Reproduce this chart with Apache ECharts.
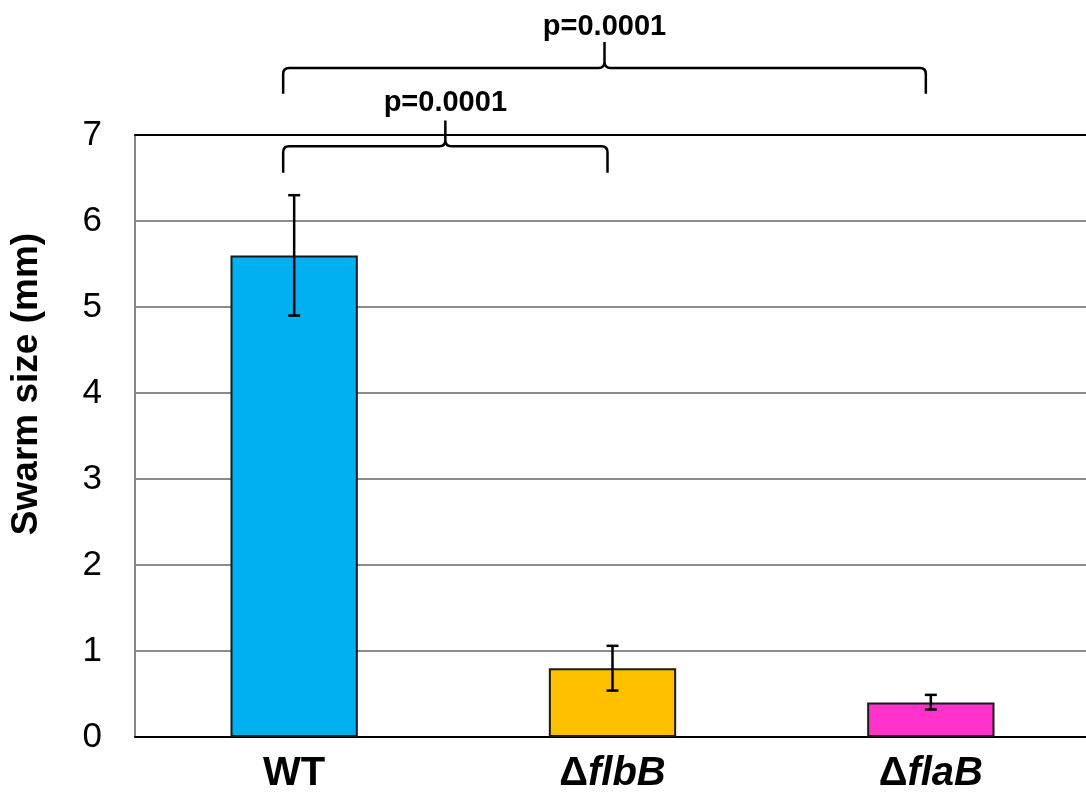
<!DOCTYPE html>
<html>
<head>
<meta charset="utf-8">
<script src="https://cdn.jsdelivr.net/npm/echarts@6/dist/echarts.min.js"></script>
<style>
html,body{margin:0;padding:0;background:#fff;}
#c{width:1086px;height:792px;}
</style>
</head>
<body>
<div id="c"></div>
<script>
// ---- data ----
var categories = ['WT', 'ΔflbB', 'ΔflaB'];
var means = [5.6, 0.8, 0.4];
var errLow = [4.9, 0.54, 0.32];
var errHigh = [6.3, 1.06, 0.49];
var barColors = ['#00B0F0', '#FFC000', '#FF33CC'];
var yTicks = [0, 1, 2, 3, 4, 5, 6, 7];
var bracketFrom = [0, 0];
var bracketTo = [1, 2];
var bracketLabels = ['p=0.0001', 'p=0.0001'];
var yTitle = 'Swarm size (mm)';

var FONT = 'Liberation Sans, Arial, Helvetica, sans-serif';
var chart = echarts.init(document.getElementById('c'), null, {renderer: 'canvas'});

var barData = means.map(function (v, i) {
  return {value: v, itemStyle: {color: barColors[i]}};
});
var errData = means.map(function (v, i) { return [i, errLow[i], errHigh[i]]; });
var bracketData = bracketFrom.map(function (f, k) { return [f, bracketTo[k], k]; });

// vertical placement of the brace levels (in axis units, above the top of the axis)
var levels = [
  {end: 6.56, h: 6.87, tip: 7.17, label: 7.37},
  {end: 7.48, h: 7.78, tip: 8.08, label: 8.26}
];

chart.setOption({
  animation: false,
  backgroundColor: '#fff',
  grid: {left: 135, right: -4, top: 135, bottom: 55, containLabel: false, outerBoundsMode: 'none'},
  xAxis: [{
    type: 'category',
    data: categories,
    axisLine: {lineStyle: {color: '#000', width: 2}},
    axisTick: {show: false},
    axisLabel: {
      margin: 17,
      formatter: function (v) {
        if (v.charAt(0) === 'Δ') return '{d|Δ}{i|' + v.slice(1) + '}';
        return '{d|' + v + '}';
      },
      rich: {
        d: {fontFamily: FONT, fontSize: 40, fontWeight: 'bold', color: '#000'},
        i: {fontFamily: FONT, fontSize: 40, fontWeight: 'bold', fontStyle: 'italic', color: '#000'}
      }
    }
  }, {
    type: 'category',
    position: 'top',
    data: categories,
    axisLine: {lineStyle: {color: '#000', width: 2}},
    axisTick: {show: false},
    axisLabel: {show: false}
  }],
  yAxis: {
    type: 'value',
    min: yTicks[0],
    max: yTicks[yTicks.length - 1],
    interval: 1,
    axisLine: {show: true, lineStyle: {color: '#868686', width: 2}},
    axisTick: {show: false},
    splitLine: {lineStyle: {color: '#8c8c8c', width: 2}},
    axisLabel: {fontFamily: FONT, fontSize: 35, color: '#000', margin: 33}
  },
  series: [{
    type: 'bar',
    data: barData,
    barWidth: '40%',
    itemStyle: {borderColor: '#1a1a1a', borderWidth: 2},
    z: 2
  }, {
    type: 'custom',
    data: errData,
    z: 5,
    renderItem: function (params, api) {
      var x = api.value(0);
      var lo = api.coord([x, api.value(1)]);
      var hi = api.coord([x, api.value(2)]);
      var w = 6;
      var st = {stroke: '#000', lineWidth: 2.5};
      return {
        type: 'group',
        children: [
          {type: 'line', shape: {x1: lo[0], y1: lo[1], x2: hi[0], y2: hi[1]}, style: st},
          {type: 'line', shape: {x1: lo[0] - w, y1: lo[1], x2: lo[0] + w, y2: lo[1]}, style: st},
          {type: 'line', shape: {x1: hi[0] - w, y1: hi[1], x2: hi[0] + w, y2: hi[1]}, style: st}
        ]
      };
    }
  }, {
    type: 'custom',
    data: bracketData,
    clip: false,
    z: 10,
    renderItem: function (params, api) {
      var f = api.value(0), t = api.value(1), k = api.value(2);
      var L = levels[k];
      var x1 = api.coord([f, L.end])[0] - 11;
      var x2 = api.coord([t, L.end])[0] - 5;
      var xm = (x1 + x2) / 2;
      var yE = api.coord([f, L.end])[1];
      var yH = api.coord([f, L.h])[1];
      var yT = api.coord([f, L.tip])[1];
      var yL = api.coord([f, L.label])[1];
      var r = 6;
      var d = 'M' + x1 + ' ' + yE +
        ' L' + x1 + ' ' + (yH + r) +
        ' Q' + x1 + ' ' + yH + ' ' + (x1 + r) + ' ' + yH +
        ' L' + (xm - r) + ' ' + yH +
        ' Q' + xm + ' ' + yH + ' ' + xm + ' ' + (yH - r) +
        ' L' + xm + ' ' + yT +
        ' M' + xm + ' ' + (yH - r) +
        ' Q' + xm + ' ' + yH + ' ' + (xm + r) + ' ' + yH +
        ' L' + (x2 - r) + ' ' + yH +
        ' Q' + x2 + ' ' + yH + ' ' + x2 + ' ' + (yH + r) +
        ' L' + x2 + ' ' + yE;
      return {
        type: 'group',
        children: [{
          type: 'path',
          shape: {pathData: d},
          style: {stroke: '#000', lineWidth: 2.5, fill: null}
        }, {
          type: 'text',
          x: xm, y: yL,
          style: {
            text: bracketLabels[k], fontFamily: FONT, fontSize: 29, fontWeight: 'bold',
            fill: '#000', align: 'center', verticalAlign: 'middle'
          }
        }]
      };
    }
  }],
  graphic: [{
    type: 'text',
    x: 27, y: 384,
    rotation: Math.PI / 2,
    style: {
      text: yTitle, fontFamily: FONT, fontSize: 37, fontWeight: 'bold',
      fill: '#000', align: 'center', verticalAlign: 'middle'
    },
    z: 10
  }]
});
</script>
</body>
</html>
